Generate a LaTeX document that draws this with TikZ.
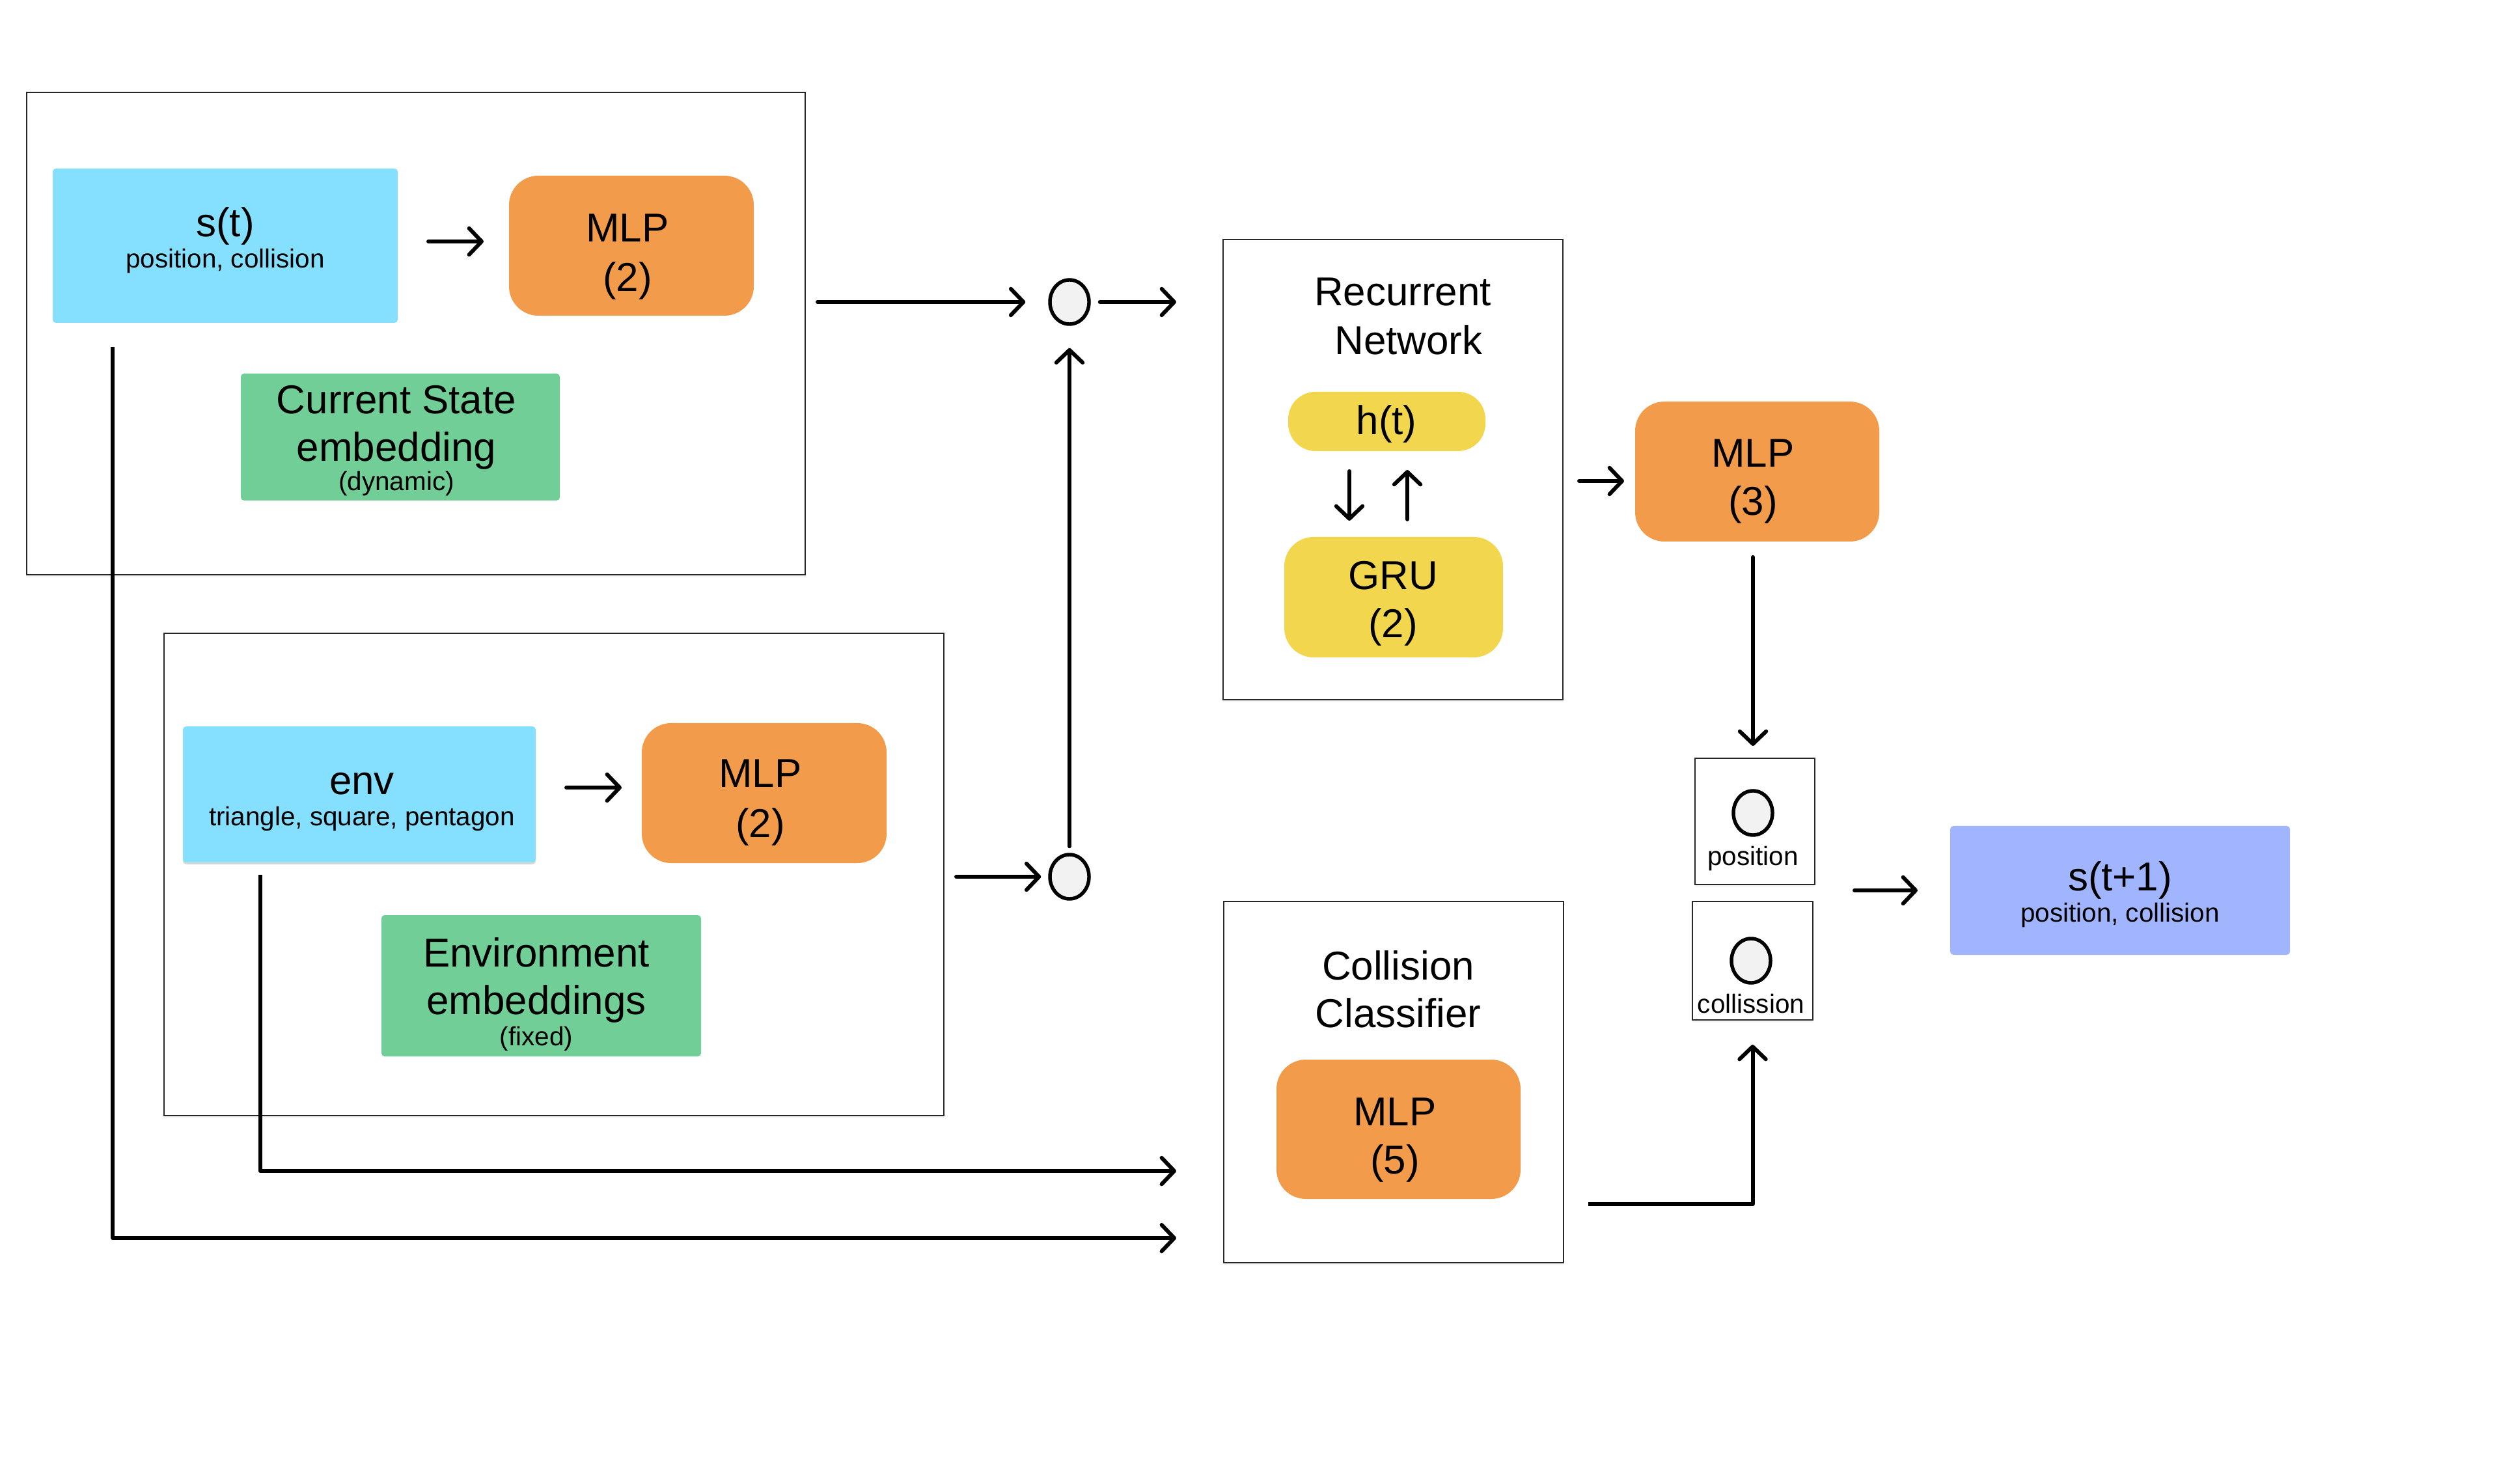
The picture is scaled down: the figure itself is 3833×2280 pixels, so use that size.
\documentclass[tikz,border=0pt]{standalone}
\usepackage{fontspec}
\setmainfont{Liberation Sans}
\usetikzlibrary{arrows.meta,shadows,shapes.geometric}

\definecolor{incyan}{RGB}{132,224,254}
\definecolor{mlporange}{RGB}{242,155,75}
\definecolor{embgreen}{RGB}{112,206,150}
\definecolor{gruyellow}{RGB}{242,215,78}
\definecolor{outblue}{RGB}{160,181,253}
\definecolor{dotfill}{RGB}{242,242,242}

\begin{document}
\begin{tikzpicture}[x=0.01cm,y=-0.01cm,
  sz/.style 2 args={minimum width=#1*0.01cm, minimum height=#2*0.01cm},
  box/.style={inner sep=0pt, outer sep=0pt},
  frame/.style={box, draw=black!85, line width=0.4pt, fill=white,
                drop shadow={shadow xshift=0pt, shadow yshift=-0.04cm, opacity=0.08}},
  flat/.style={box, rounded corners=0.05cm},
  mlp/.style={box, fill=mlporange, rounded corners=0.45cm, sz={376}{215}},
  dot/.style={ellipse, draw=black, line width=1.55pt, fill=dotfill,
              minimum width=0.6cm, minimum height=0.68cm, inner sep=0pt},
  lbl/.style={anchor=base, inner sep=0pt, font=\fontsize{17.6}{21}\selectfont},
  sub/.style={anchor=base, inner sep=0pt, font=\fontsize{11.5}{13}\selectfont},
  arr/.style={line width=1.7pt, line cap=round, line join=round,
              -{Straight Barb[length=5.5pt,width=11.5pt,line cap=round,line join=round]}},
]
\useasboundingbox[fill=white] (0,0) rectangle (3833,2280);

% outer frames
\node[frame, sz={1196}{741}] (box1) at (639,512.5) {};
\node[frame, sz={1198}{741}] (box2) at (851,1343.5) {};
\node[frame, sz={522}{707}]  (rnn)  at (2140,721.5) {};
\node[frame, sz={522}{555}]  (cc)   at (2141,1662.5) {};
\node[frame, sz={184}{194}]  (pos)  at (2696,1262) {};
\node[frame, sz={185}{182}]  (col)  at (2692.5,1476) {};

% current state block
\node[flat, fill=incyan, sz={530}{237}] (st) at (346,377.5) {};
\node[lbl] (st-a) at (346,364) {s(t)};
\node[sub] (st-b) at (346,412) {position, collision};
\node[mlp] (mlpA) at (970,377.5) {};
\node[lbl] (mlpA-a) at (964,372) {MLP};
\node[lbl] (mlpA-b) at (964,448) {(2)};
\node[flat, fill=embgreen, sz={490}{195}] (cs) at (615,671.5) {};
\node[lbl] (cs-a) at (609,636) {Current State};
\node[lbl] (cs-b) at (609,709) {embedding};
\node[sub] (cs-c) at (609,754) {(dynamic)};

% environment block
\node[flat, fill=incyan, sz={542}{209},
      drop shadow={shadow xshift=0pt, shadow yshift=-0.03cm, opacity=0.3}] (env) at (552,1220.5) {};
\node[lbl] (env-a) at (556,1221) {env};
\node[sub] (env-b) at (556,1269) {triangle, square, pentagon};
\node[mlp] (mlpB) at (1174,1218.5) {};
\node[lbl] (mlpB-a) at (1168,1210) {MLP};
\node[lbl] (mlpB-b) at (1168,1287) {(2)};
\node[flat, fill=embgreen, sz={491}{217}] (ee) at (831.5,1514.5) {};
\node[lbl] (ee-a) at (824,1485) {Environment};
\node[lbl] (ee-b) at (824,1558) {embeddings};
\node[sub] (ee-c) at (824,1606) {(fixed)};

% concatenation points
\node[dot] (c1) at (1643,464) {};
\node[dot] (c2) at (1643,1347) {};

% recurrent network
\node[lbl] (rnn-a) at (2155,470) {Recurrent};
\node[lbl] (rnn-b) at (2164,545) {Network};
\node[box, fill=gruyellow, rounded corners=0.42cm, sz={303}{91}] (ht) at (2130.5,647.5) {};
\node[lbl] (ht-a) at (2130,668) {h(t)};
\node[box, fill=gruyellow, rounded corners=0.45cm, sz={336}{185}] (gru) at (2141,917.5) {};
\node[lbl] (gru-a) at (2140,906) {GRU};
\node[lbl] (gru-b) at (2140,980) {(2)};
\node[mlp, sz={375}{215}] (mlpC) at (2699.5,724.5) {};
\node[lbl] (mlpC-a) at (2693,718) {MLP};
\node[lbl] (mlpC-b) at (2693,792) {(3)};

% collision classifier
\node[lbl] (cc-a) at (2148,1505) {Collision};
\node[lbl] (cc-b) at (2148,1578) {Classifier};
\node[mlp, sz={375}{214}] (mlpD) at (2148.5,1735) {};
\node[lbl] (mlpD-a) at (2143,1729) {MLP};
\node[lbl] (mlpD-b) at (2143,1803) {(5)};

% outputs
\node[dot] (pdot) at (2693,1249) {};
\node[sub] (pos-a) at (2693,1330) {position};
\node[dot] (cdot) at (2690,1476) {};
\node[sub] (col-a) at (2690,1556) {collission};
\node[flat, fill=outblue, sz={522}{198}] (st1) at (3257,1368) {};
\node[lbl] (st1-a) at (3257,1369) {s(t+1)};
\node[sub] (st1-b) at (3257,1416) {position, collision};
\coordinate (merge) at (2849,1368);

% connectors
\draw[arr, shorten <=0.47cm, shorten >=0.39cm] ([yshift=0.065cm]st.east) -- ([yshift=0.065cm]mlpA.west);
\draw[arr, shorten <=0.47cm, shorten >=0.31cm] ([yshift=0.105cm]env.east) -- ([yshift=0.085cm]mlpB.west);
\draw[arr, shorten <=0.19cm, shorten >=0.35cm] (box1.east |- c1.west) -- (c1.west);
\draw[arr, shorten <=0.14cm, shorten >=0.72cm] (c1.east) -- (c1.east -| rnn.west);
\draw[arr, shorten <=0.19cm, shorten >=0.11cm] (box2.east |- c2.west) -- (c2.west);
\draw[arr, shorten <=0.10cm, shorten >=0.34cm] (c2.north) -- (c1.south);
\draw[arr, shorten <=0.31cm, shorten >=0.25cm] ([xshift=-0.575cm]ht.south) -- ([xshift=-0.575cm]ht.south |- gru.north);
\draw[arr, shorten <=0.27cm, shorten >=0.29cm] ([xshift=0.315cm]ht.south |- gru.north) -- ([xshift=0.315cm]ht.south);
\draw[arr, shorten <=0.25cm, shorten >=0.17cm] ([yshift=-0.175cm]rnn.east) -- ([yshift=-0.145cm]mlpC.west);
\draw[arr, shorten <=0.24cm, shorten >=0.19cm] ([xshift=-0.03cm]pos.north |- mlpC.south) -- ([xshift=-0.03cm]pos.north);
\draw[arr, shorten >=0.5cm] (merge) -- (st1.west);
\draw[arr, line cap=butt, shorten >=0.38cm] ([xshift=0.38cm,yshift=-1.875cm]cc.east) -| (col.south);
\draw[arr, line cap=butt, shorten >=0.73cm] ([xshift=-1.52cm,yshift=-0.19cm]env.south) |- ([yshift=-1.365cm]cc.west);
\draw[arr, line cap=butt, shorten >=0.73cm] ([xshift=-1.73cm,yshift=-0.37cm]st.south) |- ([yshift=-2.395cm]cc.west);
\end{tikzpicture}
\end{document}
